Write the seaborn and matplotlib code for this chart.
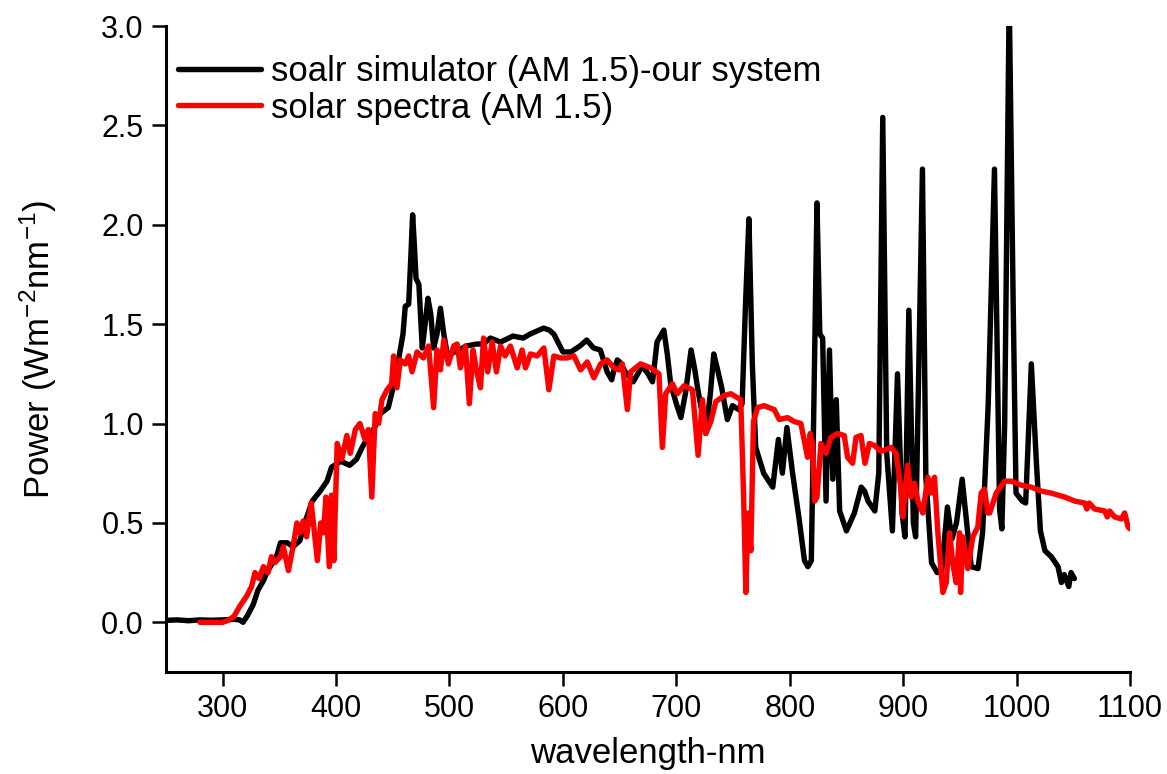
import numpy as np
import pandas as pd
import matplotlib
matplotlib.use("Agg")
import matplotlib.pyplot as plt
import seaborn as sns

# Spectre du simulateur (courbe noire)
sim_wl = [250, 260, 270, 280, 290, 300, 310, 315, 318, 322, 327, 331, 336, 339, 343, 348,
          351, 357, 362, 368, 373, 379, 386, 392, 396, 404, 412, 418, 423, 427, 434, 439,
          446, 452, 456, 459, 461, 464, 466, 467.5, 469, 470.5, 473, 476, 478.5, 481, 483.5,
          486, 489, 492, 495, 498, 501, 508, 515, 524, 530, 536, 545, 556, 565, 571, 583,
          588, 592, 600, 607, 615, 621, 627, 633, 639, 643, 645, 648, 650, 655, 662, 670,
          675, 679, 683, 689, 692, 695, 700, 704, 708, 713, 716, 719, 726, 730, 733, 736,
          740, 745, 749.5, 755, 758, 761, 764, 767, 770, 777, 785, 790, 793.5, 797.5, 802.5,
          808, 813, 816, 819, 821, 824, 826.5, 829, 832, 835, 838, 841, 844, 850, 857, 863,
          866, 869, 875, 878.5, 882, 885.5, 890.5, 895, 899, 901.6, 905, 909, 911, 917, 920,
          925, 930, 934, 939, 943, 947, 952, 956, 960, 966, 970, 975, 980.5, 985, 987, 989.5,
          993.5, 997, 999.5, 1005, 1008, 1013, 1017.5, 1021, 1025, 1030.6, 1033, 1036.5,
          1039.5, 1042, 1044, 1046, 1048, 1051]
sim_pw = [0.01, 0.012, 0.008, 0.012, 0.01, 0.012, 0.015, 0.012, 0.0, 0.035, 0.09, 0.16, 0.21,
          0.25, 0.29, 0.34, 0.40, 0.40, 0.38, 0.41, 0.51, 0.61, 0.66, 0.71, 0.78, 0.81, 0.79,
          0.82, 0.88, 0.92, 0.98, 1.05, 1.08, 1.22, 1.35, 1.45, 1.59, 1.60, 1.85, 2.05, 1.90,
          1.73, 1.70, 1.38, 1.50, 1.63, 1.55, 1.38, 1.45, 1.58, 1.45, 1.35, 1.35, 1.37, 1.39,
          1.40, 1.40, 1.43, 1.41, 1.44, 1.43, 1.45, 1.48, 1.47, 1.45, 1.36, 1.36, 1.39, 1.42,
          1.38, 1.37, 1.26, 1.22, 1.27, 1.32, 1.31, 1.26, 1.21, 1.29, 1.25, 1.21, 1.41, 1.47,
          1.35, 1.20, 1.10, 1.03, 1.15, 1.37, 1.28, 1.17, 0.95, 1.15, 1.35, 1.28, 1.18, 1.02,
          1.09, 1.07, 1.10, 1.60, 2.03, 1.30, 0.88, 0.75, 0.68, 0.92, 0.75, 0.98, 0.75, 0.53,
          0.31, 0.28, 0.31, 1.00, 2.11, 1.45, 1.43, 0.61, 1.37, 0.72, 1.12, 0.56, 0.46, 0.55,
          0.68, 0.66, 0.61, 0.56, 0.75, 2.54, 0.85, 0.46, 1.25, 0.55, 0.43, 1.57, 0.50, 0.43,
          2.28, 0.73, 0.30, 0.25, 0.26, 0.58, 0.42, 0.50, 0.72, 0.50, 0.28, 0.27, 0.45, 1.10,
          2.28, 0.57, 0.47, 1.00, 3.15, 1.60, 0.65, 0.61, 0.60, 1.30, 0.80, 0.46, 0.36, 0.33,
          0.31, 0.28, 0.20, 0.24, 0.21, 0.18, 0.25, 0.22]

# Spectre solaire AM 1.5 (courbe rouge)
am_wl = [280, 290, 300, 305, 310, 315, 321, 325.5, 328.5, 332, 336, 340, 343, 346, 351, 353.5,
         358, 362, 365.5, 368, 371, 374, 378, 380, 383.5, 386.5, 389, 391, 394, 396, 398, 401,
         405, 409.5, 412.5, 417, 421, 425.5, 428.5, 431.5, 434.5, 437.5, 440.5, 445, 449,
         450.7, 453.7, 456.6, 461, 464, 467, 471.4, 477, 481.6, 486, 489, 492, 495, 499,
         503.7, 506.7, 509.6, 514, 517.5, 520.8, 523.7, 527.3, 530, 533.7, 537.6, 541.4, 545,
         549, 553.7, 559.7, 564, 567, 571.4, 577.3, 583.2, 587.6, 592, 598, 603.8, 609.7,
         615.6, 621.5, 627.3, 633.2, 639, 645, 649.4, 652.4, 656.8, 659.7, 668.5, 677.4,
         684.7, 687.7, 690.6, 696.5, 700.9, 706.8, 714.2, 719.2, 723, 726, 730.4, 734.8, 742,
         748, 756.8, 759.2, 761.3, 763.3, 765.7, 768, 771.6, 777.5, 786.3, 790.8, 798, 804,
         809.8, 815.7, 818, 820, 822, 824, 827.5, 832, 836.3, 842.2, 848, 851, 855.4, 858.4,
         862.8, 866.3, 870.2, 874.6, 880.5, 889.4, 893.8, 897.6, 899.7, 904, 907, 910, 913,
         917.3, 921.8, 924.7, 927.6, 930.6, 935, 938, 940.9, 943.9, 946.7, 949.7, 950.6,
         952.6, 957, 961.4, 965.8, 968.8, 971.7, 974.6, 976.3, 982, 989.4, 995.2, 1004, 1013,
         1021.8, 1030.6, 1042.4, 1051.2, 1060, 1062, 1064, 1068.8, 1077.7, 1080, 1082,
         1086.5, 1092.4, 1095.3, 1098.3, 1100]
am_pw = [0.0, 0.0, 0.0, 0.01, 0.03, 0.08, 0.13, 0.18, 0.25, 0.22, 0.28, 0.25, 0.33, 0.30, 0.33,
         0.38, 0.26, 0.38, 0.50, 0.45, 0.51, 0.43, 0.60, 0.50, 0.31, 0.50, 0.45, 0.63, 0.28,
         0.64, 0.31, 0.90, 0.82, 0.94, 0.85, 0.97, 1.00, 0.92, 0.97, 0.63, 1.05, 1.00, 1.12,
         1.17, 1.20, 1.34, 1.18, 1.32, 1.30, 1.34, 1.26, 1.36, 1.33, 1.39, 1.08, 1.37, 1.27,
         1.42, 1.30, 1.39, 1.40, 1.28, 1.39, 1.10, 1.37, 1.27, 1.18, 1.43, 1.26, 1.41, 1.26,
         1.39, 1.34, 1.39, 1.28, 1.37, 1.28, 1.35, 1.34, 1.38, 1.17, 1.34, 1.33, 1.33, 1.34,
         1.27, 1.31, 1.23, 1.30, 1.32, 1.28, 1.27, 1.30, 1.07, 1.26, 1.30, 1.28, 1.25, 0.88,
         1.15, 1.20, 1.15, 1.19, 1.17, 0.84, 1.12, 0.95, 1.01, 1.11, 1.14, 1.15, 1.12, 0.66,
         0.15, 0.55, 0.36, 1.01, 1.08, 1.09, 1.07, 1.02, 1.03, 1.01, 1.00, 0.83, 0.95, 0.90,
         0.61, 0.63, 0.90, 0.85, 0.93, 0.95, 0.94, 0.83, 0.80, 0.93, 0.94, 0.80, 0.90, 0.89,
         0.86, 0.88, 0.85, 0.69, 0.53, 0.79, 0.63, 0.70, 0.61, 0.55, 0.73, 0.65, 0.73, 0.45,
         0.15, 0.20, 0.45, 0.29, 0.20, 0.45, 0.15, 0.43, 0.27, 0.43, 0.48, 0.65, 0.67, 0.55,
         0.55, 0.65, 0.71, 0.71, 0.69, 0.68, 0.66, 0.65, 0.63, 0.61, 0.60, 0.57, 0.60, 0.57,
         0.56, 0.53, 0.56, 0.53, 0.52, 0.55, 0.48, 0.47]

x_ticks = [300, 400, 500, 600, 700, 800, 900, 1000, 1100]
y_ticks = [0.0, 0.5, 1.0, 1.5, 2.0, 2.5, 3.0]

sns.set_style("ticks")
plt.rcParams["font.family"] = ["Liberation Sans", "DejaVu Sans"]
plt.rcParams["mathtext.fontset"] = "custom"
plt.rcParams["mathtext.rm"] = "Liberation Sans"
plt.rcParams["mathtext.default"] = "regular"
plt.rcParams["text.color"] = "black"
plt.rcParams["axes.labelcolor"] = "black"
plt.rcParams["xtick.color"] = "black"
plt.rcParams["ytick.color"] = "black"

fig = plt.figure(figsize=(11.67, 7.74), dpi=100)
ax = fig.add_axes([0.1422, 0.1318, 0.8261, 0.8346])

sns.lineplot(x=sim_wl, y=sim_pw, color="black", sort=False, estimator=None,
             label="soalr simulator (AM 1.5)-our system", ax=ax)
sns.lineplot(x=am_wl, y=am_pw, color="#ff0000", sort=False, estimator=None,
             label="solar spectra (AM 1.5)", ax=ax)

# traits épais comme dans l'original
for line in ax.get_lines():
    line.set_linewidth(3.9)
    line.set_solid_joinstyle("round")
    line.set_solid_capstyle("round")

ax.set_xlim(250, 1100)
ax.set_ylim(-0.25, 3.0)
ax.set_xticks(x_ticks)
ax.set_yticks(y_ticks)
ax.set_yticklabels([f"{v:.1f}" for v in y_ticks])

ax.set_xlabel("wavelength-nm", fontsize=25, labelpad=9)
ax.set_ylabel("Power (Wm$^{-2}$nm$^{-1}$)", fontsize=25, labelpad=30)

ax.tick_params(axis="both", labelsize=22, length=10, width=1.8, pad=6, direction="out")
for side in ["top", "right"]:
    ax.spines[side].set_visible(False)
for side in ["left", "bottom"]:
    ax.spines[side].set_linewidth(2.2)
    ax.spines[side].set_color("black")

leg = ax.legend(loc="upper left", bbox_to_anchor=(0.012, 0.955), frameon=False, fontsize=25,
                handlelength=2.4, handletextpad=0.3, labelspacing=0.1, borderpad=0.0,
                borderaxespad=0.0)
for line in leg.get_lines():
    line.set_linewidth(3.9)

plt.savefig("out.png", dpi=100)
